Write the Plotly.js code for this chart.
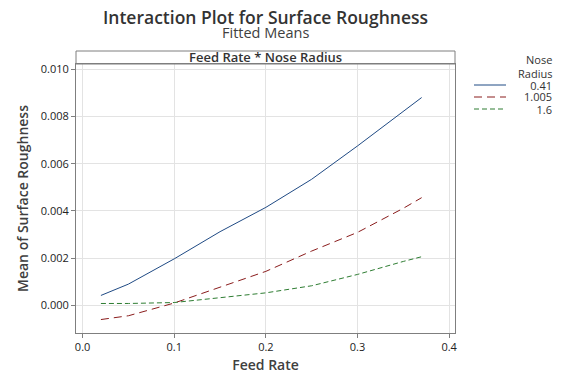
<!DOCTYPE html>
<html>
<head>
<meta charset="utf-8">
<script src="https://cdn.plot.ly/plotly-3.0.1.min.js"></script>
<style>html,body{margin:0;padding:0;background:#fff;}#chart{width:576px;height:384px;}</style>
</head>
<body>
<div id="chart"></div>
<script>
// ---- data ----
const feedRate = [0.02, 0.05, 0.10, 0.15, 0.20, 0.25, 0.30, 0.35, 0.37];
const nr041 = [0.00042, 0.00090, 0.00197, 0.00312, 0.00415, 0.00534, 0.00675, 0.00820, 0.00880];
const nr1005 = [-0.00060, -0.00044, 0.00010, 0.00076, 0.00144, 0.00230, 0.00309, 0.00411, 0.00456];
const nr16 = [0.00008, 0.00008, 0.00012, 0.00032, 0.00053, 0.00083, 0.00131, 0.00186, 0.00206];
const seriesNames = ["0.41", "1.005", "1.6"];
const legendLabels = ["\u20070.41", "1.005", "\u2007\u20071.6"];
const legendTitle = ["Nose", "Radius"];
const xTicks = [0.0, 0.1, 0.2, 0.3, 0.4];
const xTickText = ["0.0", "0.1", "0.2", "0.3", "0.4"];
const yTicks = [0.000, 0.002, 0.004, 0.006, 0.008, 0.010];
const yTickText = ["0.000", "0.002", "0.004", "0.006", "0.008", "0.010"];

const colors = ["#1f4a84", "#8a1c1c", "#2e7d32"];
const dashes = ["solid", "8px,5px", "5px,3px"];
const seriesY = [nr041, nr1005, nr16];
const FONT = "Open Sans, Noto Sans, DejaVu Sans, sans-serif";

const traces = seriesY.map((ys, i) => ({
  type: "scatter", mode: "lines", x: feedRate, y: ys, name: seriesNames[i],
  line: {color: colors[i], width: 1, dash: dashes[i]}, showlegend: false, hoverinfo: "skip"
}));

// geometry helpers (px -> paper)
const L = 76, R = 121, T = 64, B = 51, W = 576, H = 384;
const pw = W - L - R, ph = H - T - B;
const px2x = p => (p - L) / pw;
const py2y = p => (H - B - p) / ph;

const shapes = [
  {type: "rect", xref: "paper", yref: "paper", x0: 0, x1: 1, y0: 1, y1: py2y(51),
   line: {color: "#7f7f7f", width: 1}, fillcolor: "rgba(0,0,0,0)"}
];
const annotations = [
  {text: "Fitted Means", xref: "paper", yref: "paper", x: 0.5, y: py2y(33), showarrow: false,
   xanchor: "center", yanchor: "middle", font: {family: FONT, size: 14.5, color: "#404040"}},
  {text: "Feed Rate * Nose Radius", xref: "paper", yref: "paper", x: 0.5, y: py2y(57.5), showarrow: false,
   xanchor: "center", yanchor: "middle", font: {family: FONT, size: 13, color: "#333333", weight: 600}}
];
const legTitleY = [60, 73];
legendTitle.forEach((t, i) => {
  annotations.push({text: t, xref: "paper", yref: "paper", x: px2x(554), y: py2y(legTitleY[i]),
    showarrow: false, xanchor: "right", yanchor: "middle", align: "right",
    font: {family: FONT, size: 11, color: "#333333"}});
});
// manual legend
const legY = [85, 97, 109];
seriesNames.forEach((n, i) => {
  shapes.push({type: "line", xref: "paper", yref: "paper", x0: px2x(474), x1: px2x(506),
    y0: py2y(legY[i]), y1: py2y(legY[i]), line: {color: colors[i], width: 1, dash: dashes[i]}});
  annotations.push({text: legendLabels[i], xref: "paper", yref: "paper", x: px2x(554), y: py2y(legY[i]),
    showarrow: false, xanchor: "right", yanchor: "middle", align: "right",
    font: {family: FONT, size: 11, color: "#333333"}});
});

const layout = {
  width: W, height: H, margin: {l: L, r: R, t: T, b: B},
  paper_bgcolor: "#ffffff", plot_bgcolor: "#ffffff", showlegend: false,
  font: {family: FONT, color: "#333333"},
  title: {text: "Interaction Plot for Surface Roughness", xref: "paper", x: 0.5, xanchor: "center",
    yref: "container", y: 1 - 18 / H, yanchor: "middle",
    font: {family: FONT, size: 17.5, color: "#333333", weight: 600}},
  xaxis: {range: [-0.0072, 0.4064], tickvals: xTicks, ticktext: xTickText, showgrid: true,
    gridcolor: "#e3e3e3", gridwidth: 1, zeroline: false, showline: true, mirror: true,
    linecolor: "#7f7f7f", linewidth: 1, ticks: "outside", ticklen: 4, tickcolor: "#7f7f7f",
    tickfont: {family: FONT, size: 11, color: "#222222"},
    title: {text: "Feed Rate", standoff: 6, font: {family: FONT, size: 14, color: "#404040", weight: 600}}},
  yaxis: {range: [-0.00117, 0.01022], tickvals: yTicks, ticktext: yTickText, showgrid: true,
    gridcolor: "#e3e3e3", gridwidth: 1, zeroline: false, showline: true, mirror: true,
    linecolor: "#7f7f7f", linewidth: 1, ticks: "outside", ticklen: 4, tickcolor: "#7f7f7f",
    tickfont: {family: FONT, size: 11, color: "#222222"},
    title: {text: "Mean of Surface Roughness", standoff: 8, font: {family: FONT, size: 14, color: "#404040", weight: 600}}},
  shapes: shapes, annotations: annotations
};

Plotly.newPlot("chart", traces, layout, {staticPlot: true, displayModeBar: false});
</script>
</body>
</html>
